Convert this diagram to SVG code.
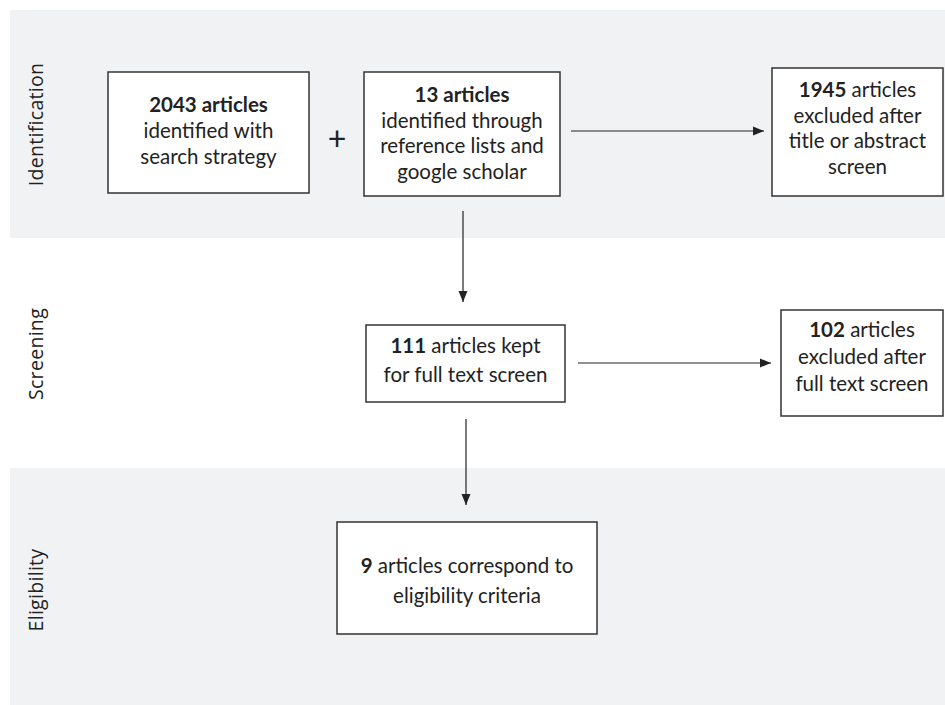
<svg xmlns="http://www.w3.org/2000/svg" width="945" height="705" viewBox="0 0 945 705">
<defs>
<style>
.band{fill:#f1f2f4;}
.box{fill:#ffffff;stroke:#333333;stroke-width:1.5;}
.t{font-family:Lato,"Open Sans","Liberation Sans",sans-serif;font-size:20.5px;fill:#222222;text-anchor:middle;}
.b{font-weight:bold;}
.lab{font-family:"Open Sans","DejaVu Sans",sans-serif;font-size:19.5px;fill:#222222;text-anchor:middle;letter-spacing:0.3px;}
.conn{stroke:#222222;stroke-width:1.2;fill:none;}
</style>
<marker id="ah" viewBox="0 0 11 10" refX="11" refY="5" markerWidth="11" markerHeight="10" markerUnits="userSpaceOnUse" orient="auto">
<path d="M0,0.5 L11,5 L0,9.5 Z" fill="#222222"/>
</marker>
</defs>
<g id="bands">
<rect class="band" x="10" y="10" width="935" height="228"/>
<rect class="band" x="10" y="468" width="935" height="237"/>
</g>
<g id="stage-labels">
<text class="lab" x="43" y="124.5" transform="rotate(-90 43 124.5)">Identification</text>
<text class="lab" x="43" y="354" transform="rotate(-90 43 354)">Screening</text>
<text class="lab" x="43" y="590" transform="rotate(-90 43 590)">Eligibility</text>
</g>
<g id="connectors">
<line class="conn" x1="571" y1="131" x2="764" y2="131" marker-end="url(#ah)"/>
<line class="conn" x1="463" y1="211" x2="463" y2="302" marker-end="url(#ah)"/>
<line class="conn" x1="578" y1="363" x2="771" y2="363" marker-end="url(#ah)"/>
<line class="conn" x1="466" y1="419" x2="466" y2="505" marker-end="url(#ah)"/>
</g>
<g id="node-2043">
<rect class="box" x="108" y="72" width="201" height="121"/>
<text class="t" x="208.5" y="112"><tspan class="b">2043 articles</tspan></text>
<text class="t" x="208.5" y="138">identified with</text>
<text class="t" x="208.5" y="164">search strategy</text>
</g>
<g id="plus">
<text class="t" x="337" y="150" style="font-size:32px">+</text>
</g>
<g id="node-13">
<rect class="box" x="364" y="72" width="196" height="124"/>
<text class="t" x="462" y="102"><tspan class="b">13 articles</tspan></text>
<text class="t" x="462" y="128">identified through</text>
<text class="t" x="462" y="153">reference lists and</text>
<text class="t" x="462" y="179">google scholar</text>
</g>
<g id="node-1945">
<rect class="box" x="772" y="68" width="171" height="128"/>
<text class="t" x="857.5" y="97"><tspan class="b">1945</tspan> articles</text>
<text class="t" x="857.5" y="123">excluded after</text>
<text class="t" x="857.5" y="148">title or abstract</text>
<text class="t" x="857.5" y="174">screen</text>
</g>
<g id="node-111">
<rect class="box" x="366" y="325" width="199" height="77"/>
<text class="t" x="465.5" y="353"><tspan class="b">111</tspan> articles kept</text>
<text class="t" x="465.5" y="382">for full text screen</text>
</g>
<g id="node-102">
<rect class="box" x="781" y="310" width="162" height="106"/>
<text class="t" x="862" y="337"><tspan class="b">102</tspan> articles</text>
<text class="t" x="862" y="364">excluded after</text>
<text class="t" x="862" y="391">full text screen</text>
</g>
<g id="node-9">
<rect class="box" x="337" y="522" width="260" height="112"/>
<text class="t" x="467" y="573"><tspan class="b">9</tspan> articles correspond to</text>
<text class="t" x="467" y="603">eligibility criteria</text>
</g>
</svg>
